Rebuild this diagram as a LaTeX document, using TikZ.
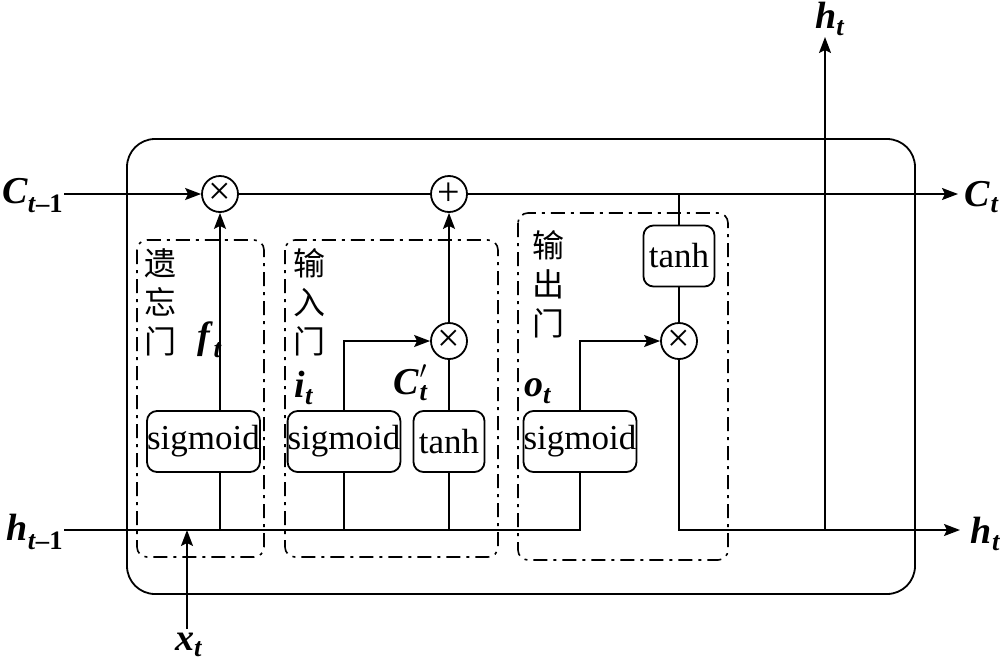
\documentclass[tikz,border=0pt]{standalone}
\usepackage{amsmath}
\usepackage{fontspec}
\setmainfont{Liberation Serif}
\newfontfamily\cjk{Noto Sans CJK SC}
\usetikzlibrary{arrows.meta,calc}
\newcommand{\bim}[1]{\textbf{\textit{#1}}}
\begin{document}
\begin{tikzpicture}[x=1pt,y=-1pt,line width=1.8pt,
  arr/.style={-{Stealth[length=16pt,width=12pt,inset=3pt]}},
  opn/.style={circle,draw,minimum size=36pt,inner sep=0pt,font=\fontsize{40}{40}\selectfont},
  fbox/.style={draw,rounded corners=10pt,minimum height=61pt,inner sep=0pt,font=\fontsize{35}{40}\selectfont},
  gate/.style={draw,line width=1.6pt,rounded corners=10pt,dash pattern=on 14pt off 6pt on 3pt off 6pt},
  lab/.style={font=\fontsize{38}{42}\selectfont,inner sep=0pt},
  cj/.style={font=\cjk\fontsize{32}{39}\selectfont,align=center,inner sep=0pt}]
\useasboundingbox (0,0) rectangle (1003,664);
% outer box
\draw[line width=1.8pt,rounded corners=28pt] (127,139) rectangle (915,594);
% gate regions
\draw[gate] (137,240) rectangle (264,557);
\draw[gate] (285,240) rectangle (498,557);
\draw[gate] (518,213) rectangle (728,560);
% operators
\node[opn] (mul1) at (220,194) {×};
\node[opn] (plus) at (449,194) {+};
\node[opn] (mul2) at (449,341) {×};
\node[opn] (mul3) at (679,341) {×};
% function boxes
\node[fbox,minimum width=113pt] (sig1) at (203.5,441.5) {sigmoid};
\node[fbox,minimum width=112pt] (sig2) at (344,441.5) {sigmoid};
\node[fbox,minimum width=71pt] (tanh1) at (449,441.5) {tanh};
\node[fbox,minimum width=113pt] (sig3) at (580,441.5) {sigmoid};
\node[fbox,minimum width=71pt] (tanh2) at (679,256) {tanh};
% coordinates
\coordinate (cin) at (64,194);
\coordinate (cout) at (958,194);
\coordinate (hin) at (64,530);
\coordinate (hout) at (960,530);
\coordinate (hj) at (825,530);
\coordinate (htop) at (825,37);
\coordinate (xin) at (187,629);
\coordinate (xj) at (187,530);
% cell state line
\draw[arr] (cin) -- (mul1.west);
\draw (mul1.east) -- (plus.west);
\draw[arr] (plus.east) -- (cout);
% hidden line
\draw (hin) -| (sig3.south);
\draw[arr] (xin) -- (xj);
% forget gate
\draw (sig1.south -| mul1) -- (mul1 |- hin);
\draw[arr] (sig1.north -| mul1) -- (mul1.south);
% input gate
\draw (sig2.south) -- (sig2 |- hin);
\draw (tanh1.south) -- (tanh1 |- hin);
\draw[arr] (sig2.north) |- (mul2.west);
\draw (tanh1.north) -- (mul2.south);
\draw[arr] (mul2.north) -- (plus.south);
% output gate
\draw[arr] (sig3.north) |- (mul3.west);
\draw (tanh2.north) -- (tanh2 |- cout);
\draw (tanh2.south) -- (mul3.north);
\draw[arr] (mul3.south) |- (hout);
\draw[arr] (hj) -- (htop);
% labels
\node[lab,anchor=east] at ($(cin)+(0,2)$) {$\bim{C}_{\bim{t}\textbf{–1}}$};
\node[lab,anchor=east] at ($(hin)+(0,2)$) {$\bim{h}_{\bim{t}\textbf{–1}}$};
\node[lab,anchor=west] at ($(cout)+(6,3)$) {$\bim{C}_{\bim{t}}$};
\node[lab,anchor=west] at ($(hout)+(10,4)$) {$\bim{h}_{\bim{t}}$};
\node[lab] at (830,19) {$\bim{h}_{\bim{t}}$};
\node[lab] at (189,645) {$\bim{x}_{\bim{t}}$};
\node[lab] (ft) at (210,340) {$\bim{f}_{\bim{t}}$};
\node[lab] (it) at (304,388) {$\bim{i}_{\bim{t}}$};
\node[lab] (ct) at (411,383) {$\bim{C}'_{\bim{t}}$};
\node[lab] (ot) at (538,391) {$\bim{o}_{\bim{t}}$};
\node[cj] (fg) at (160,302) {遗\\忘\\门};
\node[cj] (ig) at (309,302) {输\\入\\门};
\node[cj] (og) at (548,284) {输\\出\\门};
\end{tikzpicture}
\end{document}
